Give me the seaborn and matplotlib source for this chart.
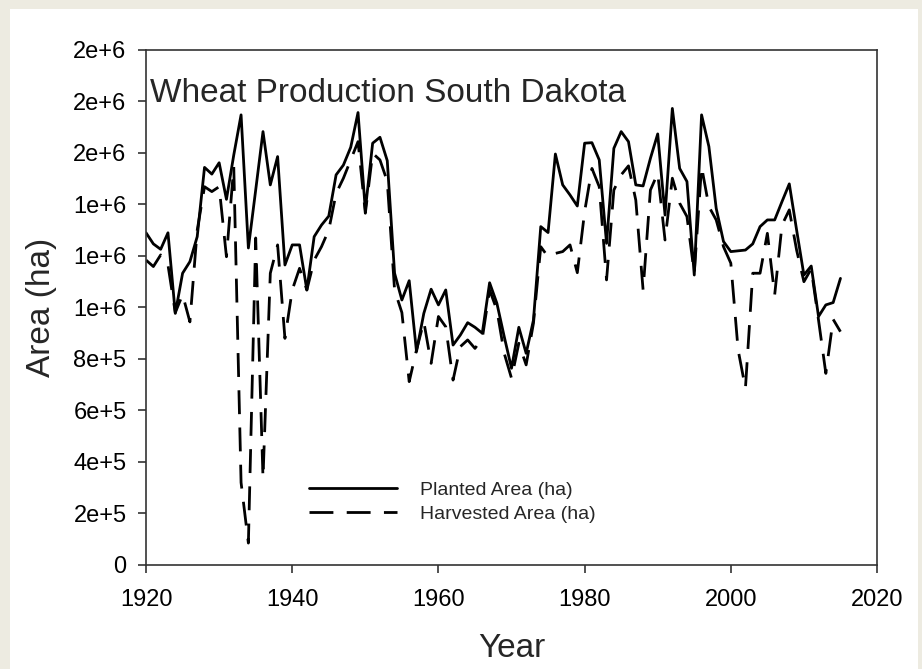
import pandas as pd
import matplotlib.pyplot as plt
from matplotlib.patches import Rectangle
from matplotlib.ticker import FuncFormatter
import seaborn as sns

years = list(range(1920, 2016))

# values in millions of ha
planted = [1.290, 1.247, 1.226, 1.290, 0.977, 1.133, 1.178, 1.275, 1.544, 1.518,
           1.562, 1.420, 1.592, 1.748, 1.231, 1.456, 1.683, 1.476, 1.586, 1.165,
           1.243, 1.243, 1.068, 1.275, 1.320, 1.355, 1.515, 1.553, 1.622, 1.757,
           1.379, 1.638, 1.661, 1.570, 1.133, 1.029, 1.104, 0.829, 0.977, 1.071,
           1.010, 1.068, 0.854, 0.893, 0.941, 0.923, 0.900, 1.096, 1.016, 0.887,
           0.764, 0.923, 0.822, 0.951, 1.314, 1.291, 1.596, 1.476, 1.437, 1.394,
           1.638, 1.640, 1.573, 1.249, 1.618, 1.683, 1.644, 1.476, 1.472, 1.579,
           1.674, 1.359, 1.773, 1.540, 1.489, 1.126, 1.748, 1.625, 1.385, 1.256,
           1.217, 1.220, 1.223, 1.247, 1.314, 1.340, 1.340, 1.411, 1.480, 1.301,
           1.126, 1.161, 0.965, 1.010, 1.019, 1.113]

harvested = [1.184, 1.159, 1.204, 1.165, 0.980, 1.050, 0.944, 1.300, 1.469, 1.450,
             1.469, 1.197, 1.547, 0.320, 0.085, 1.270, 0.338, 1.133, 1.243, 0.880,
             1.068, 1.152, 1.068, 1.184, 1.236, 1.301, 1.443, 1.502, 1.573, 1.644,
             1.366, 1.599, 1.573, 1.490, 1.068, 0.980, 0.712, 0.835, 0.945, 0.783,
             0.965, 0.925, 0.718, 0.848, 0.874, 0.841, 0.880, 1.068, 0.990, 0.822,
             0.725, 0.861, 0.777, 0.939, 1.236, 1.197, 1.210, 1.217, 1.243, 1.135,
             1.372, 1.540, 1.469, 1.107, 1.456, 1.515, 1.550, 1.417, 1.068, 1.456,
             1.521, 1.262, 1.502, 1.405, 1.353, 1.133, 1.547, 1.392, 1.340, 1.236,
             1.172, 0.835, 0.686, 1.133, 1.133, 1.288, 1.049, 1.320, 1.379, 1.223,
             1.100, 1.150, 0.951, 0.744, 0.954, 0.906]

series_names = ['Planted Area (ha)', 'Harvested Area (ha)']

df = pd.DataFrame({
    'Year': years * 2,
    'Area': [v * 1e6 for v in planted + harvested],
    'Series': [series_names[0]] * len(years) + [series_names[1]] * len(years),
})

sns.set_style('ticks')
plt.rcParams['font.family'] = ['Liberation Sans', 'DejaVu Sans']

fig = plt.figure(figsize=(9.22, 6.69), dpi=100)
fig.patch.set_facecolor('#edebe1')
fig.add_artist(Rectangle((10 / 922, 0), 908 / 922, 660 / 669, transform=fig.transFigure,
                         facecolor='white', edgecolor='none', zorder=-1))

ax = fig.add_axes([0.1584, 0.1555, 0.7928, 0.7698])
ax.set_facecolor('white')

sns.lineplot(data=df, x='Year', y='Area', style='Series', style_order=series_names,
             dashes={series_names[0]: '', series_names[1]: (8.6, 4.8)},
             color='black', linewidth=2, legend=False, ax=ax)

ax.set_xlim(1920, 2020)
ax.set_ylim(0, 2e6)
ax.set_xticks(range(1920, 2021, 20))
ax.set_yticks([i * 2e5 for i in range(11)])


def sci_fmt(v, pos):
    if v == 0:
        return '0'
    s = f'{v:.0e}'
    mant, exp = s.split('e')
    return f'{mant}e{exp[0]}{int(exp[1:])}'


ax.yaxis.set_major_formatter(FuncFormatter(sci_fmt))

for sp in ax.spines.values():
    sp.set_visible(True)
    sp.set_color('#333333')
    sp.set_linewidth(1.2)
ax.tick_params(axis='both', direction='out', length=6, width=1.2, color='#333333',
               labelsize=17, labelcolor='black', pad=8)
ax.tick_params(axis='x', pad=11.5)

ax.set_xlabel('Year', fontsize=24, labelpad=16)
ax.set_ylabel('Area (ha)', fontsize=24, labelpad=12)

ax.text(0.006, 0.899, 'Wheat Production South Dakota', transform=ax.transAxes,
        fontsize=24, va='baseline', ha='left')

ax.legend(ax.lines[:2], series_names, loc='upper left', bbox_to_anchor=(0.223, 0.162),
          frameon=False, fontsize=14, handlelength=4.5, handletextpad=1.2,
          labelspacing=0.3, borderpad=0, borderaxespad=0)

fig.savefig('out.png', dpi=100, facecolor=fig.get_facecolor())
